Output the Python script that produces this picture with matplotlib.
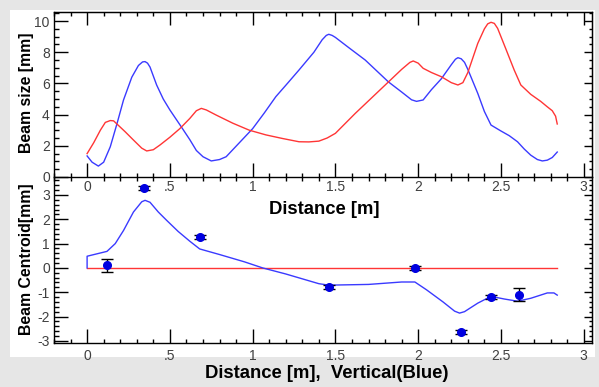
import matplotlib
matplotlib.use('Agg')
import matplotlib.pyplot as plt
from matplotlib.ticker import MultipleLocator, FixedLocator
from matplotlib.patches import Rectangle

plt.rcParams['font.family'] = ['Liberation Sans', 'DejaVu Sans']

# ---------------- data ----------------
top_blue_x = [0.00, 0.03, 0.068, 0.10, 0.14, 0.18, 0.22, 0.27, 0.31, 0.335, 0.35, 0.365, 0.38, 0.42,
              0.46, 0.50, 0.57, 0.62, 0.66, 0.70, 0.75, 0.80, 0.84, 0.92, 1.00, 1.07, 1.14, 1.21,
              1.28, 1.37, 1.42, 1.445, 1.46, 1.48, 1.50, 1.58, 1.68, 1.75, 1.82, 1.90, 1.96, 1.99,
              2.03, 2.08, 2.14, 2.20, 2.225, 2.24, 2.26, 2.28, 2.30, 2.36, 2.40, 2.44, 2.50, 2.55,
              2.60, 2.64, 2.68, 2.72, 2.75, 2.78, 2.81, 2.84]
top_blue_y = [1.35, 0.95, 0.70, 0.95, 1.94, 3.40, 4.94, 6.40, 7.15, 7.38, 7.40, 7.30, 7.05, 5.90,
              5.00, 4.30, 3.20, 2.40, 1.70, 1.30, 1.03, 1.12, 1.30, 2.20, 3.10, 4.10, 5.15, 6.00,
              6.86, 8.00, 8.80, 9.08, 9.15, 9.08, 8.95, 8.30, 7.50, 6.80, 6.10, 5.45, 4.95, 4.85,
              4.94, 5.60, 6.30, 7.20, 7.55, 7.65, 7.58, 7.35, 6.90, 5.36, 4.20, 3.33, 2.95, 2.65,
              2.26, 1.80, 1.40, 1.12, 1.03, 1.08, 1.25, 1.60]

top_red_x = [0.00, 0.04, 0.08, 0.11, 0.14, 0.16, 0.18, 0.23, 0.28, 0.33, 0.36, 0.40, 0.44, 0.50,
             0.56, 0.62, 0.66, 0.69, 0.72, 0.78, 0.88, 0.98, 1.08, 1.18, 1.28, 1.34, 1.40, 1.45,
             1.50, 1.62, 1.78, 1.90, 1.95, 1.97, 2.00, 2.03, 2.08, 2.14, 2.20, 2.24, 2.27, 2.30,
             2.36, 2.40, 2.42, 2.44, 2.46, 2.48, 2.53, 2.58, 2.62, 2.68, 2.74, 2.78, 2.81, 2.83,
             2.84]
top_red_y = [1.50, 2.20, 3.00, 3.50, 3.62, 3.60, 3.40, 2.90, 2.37, 1.85, 1.67, 1.75, 2.05, 2.55,
             3.10, 3.75, 4.25, 4.40, 4.30, 3.97, 3.45, 3.00, 2.70, 2.47, 2.26, 2.25, 2.30, 2.50,
             2.80, 4.08, 5.69, 6.90, 7.35, 7.44, 7.30, 6.97, 6.70, 6.43, 6.05, 5.90, 6.05, 6.70,
             8.57, 9.50, 9.82, 9.92, 9.85, 9.53, 8.20, 6.86, 5.90, 5.30, 4.85, 4.50, 4.25, 3.90,
             3.40]

bot_blue_x = [0.00, 0.00, 0.12, 0.17, 0.22, 0.28, 0.33, 0.35, 0.38, 0.43, 0.48, 0.55, 0.62, 0.68,
              0.80, 0.95, 1.06, 1.20, 1.30, 1.40, 1.46, 1.70, 1.90, 1.98, 2.05, 2.15, 2.22, 2.25,
              2.28, 2.36, 2.44, 2.52, 2.60, 2.68, 2.78, 2.82, 2.84]
bot_blue_y = [0.00, 0.48, 0.68, 1.00, 1.54, 2.30, 2.72, 2.78, 2.70, 2.30, 1.96, 1.50, 1.10, 0.78,
              0.55, 0.25, 0.00, -0.25, -0.45, -0.65, -0.71, -0.68, -0.58, -0.58, -0.90, -1.40,
              -1.78, -1.86, -1.80, -1.45, -1.17, -1.28, -1.37, -1.25, -1.03, -1.03, -1.12]

bot_red_x = [0.00, 2.84]
bot_red_y = [0.00, 0.00]

meas_x = [0.12, 0.345, 0.68, 1.46, 1.98, 2.26, 2.44, 2.61]
meas_y = [0.10, 3.27, 1.26, -0.80, -0.02, -2.63, -1.21, -1.10]
meas_err = [0.26, 0.08, 0.08, 0.08, 0.08, 0.08, 0.08, 0.26]

x_ticks = [0, 0.5, 1, 1.5, 2, 2.5, 3]
x_ticklabels = ['0', '.5', '1', '1.5', '2', '2.5', '3']
top_yticks = [0, 2, 4, 6, 8, 10]
bot_yticks = [-3, -2, -1, 0, 1, 2, 3]
bot_yticklabels = ['-3', '-2', '-1', '0', '1', '2', '3']

# ---------------- figure ----------------
W, H = 599, 387
fig = plt.figure(figsize=(W / 100, H / 100), dpi=100)
fig.patch.set_facecolor('#e6e6e6')
fig.patches.append(Rectangle((10 / W, 1 - 357 / H), 585 / W, 347 / H,
                             transform=fig.transFigure, facecolor='white',
                             edgecolor='none', zorder=-10))

BLUE = '#3a3aff'
RED = '#ff3535'
TICKC = '#404040'
PT = 72 / 100  # px -> pt

ax_bot = fig.add_axes([54 / W, 1 - 343 / H, 538 / W, 166 / H])
ax_top = fig.add_axes([54 / W, 1 - 177 / H, 538 / W, 165 / H])

for ax in (ax_top, ax_bot):
    ax.set_xlim(-0.2, 3.05)
    ax.set_facecolor('white')
    ax.xaxis.set_major_locator(FixedLocator(x_ticks))
    ax.set_xticklabels(x_ticklabels)
    ax.xaxis.set_minor_locator(MultipleLocator(0.1))
    for s in ax.spines.values():
        s.set_linewidth(1.0)
        s.set_color('black')

# ---- top panel ----
ax_top.plot(top_blue_x, top_blue_y, color=BLUE, lw=1.0)
ax_top.plot(top_red_x, top_red_y, color=RED, lw=1.0)
ax_top.set_ylim(0, 10.58)
ax_top.yaxis.set_major_locator(FixedLocator(top_yticks))
ax_top.yaxis.set_minor_locator(MultipleLocator(0.5))
ax_top.tick_params(axis='x', which='major', direction='in', length=14 * PT, width=1,
                   labelsize=10, labelcolor=TICKC, pad=2, top=False)
ax_top.tick_params(axis='x', which='minor', direction='inout', length=8 * PT, width=1, top=False)
ax_top.tick_params(axis='y', which='major', direction='in', length=14 * PT, width=1,
                   labelsize=10, labelcolor=TICKC, pad=3, right=False)
ax_top.tick_params(axis='y', which='minor', direction='in', length=5 * PT, width=1, right=False)

sx = ax_top.secondary_xaxis('top')
sx.xaxis.set_major_locator(FixedLocator(x_ticks))
sx.xaxis.set_minor_locator(MultipleLocator(0.1))
sx.tick_params(which='major', direction='in', length=13 * PT, width=1, labeltop=False)
sx.tick_params(which='minor', direction='in', length=4 * PT, width=1)
sy = ax_top.secondary_yaxis('right')
sy.yaxis.set_major_locator(FixedLocator(top_yticks))
sy.yaxis.set_minor_locator(MultipleLocator(0.5))
sy.tick_params(which='major', direction='in', length=8 * PT, width=1, labelright=False)
sy.tick_params(which='minor', direction='in', length=3 * PT, width=1)

# ---- bottom panel ----
ax_bot.plot(bot_red_x, bot_red_y, color=RED, lw=1.0)
ax_bot.plot(bot_blue_x, bot_blue_y, color=BLUE, lw=1.0)
ax_bot.errorbar(meas_x, meas_y, yerr=meas_err, fmt='o', color='#0000e0', markersize=5.5,
                ecolor='black', elinewidth=1, capsize=4, capthick=1, zorder=5)
ax_bot.set_ylim(-3.09, 3.74)
ax_bot.yaxis.set_major_locator(FixedLocator(bot_yticks))
ax_bot.set_yticklabels(bot_yticklabels)
ax_bot.yaxis.set_minor_locator(MultipleLocator(0.2))
ax_bot.spines['top'].set_visible(False)
ax_bot.tick_params(axis='x', which='major', direction='in', length=14 * PT, width=1,
                   labelsize=10, labelcolor=TICKC, pad=4, top=False)
ax_bot.tick_params(axis='x', which='minor', direction='in', length=4 * PT, width=1, top=False)
ax_bot.tick_params(axis='y', which='major', direction='in', length=14 * PT, width=1,
                   labelsize=10, labelcolor=TICKC, pad=3, right=False)
ax_bot.tick_params(axis='y', which='minor', direction='in', length=5 * PT, width=1, right=False)
sy2 = ax_bot.secondary_yaxis('right')
sy2.yaxis.set_major_locator(FixedLocator(bot_yticks))
sy2.yaxis.set_minor_locator(MultipleLocator(0.2))
sy2.tick_params(which='major', direction='in', length=8 * PT, width=1, labelright=False)
sy2.tick_params(which='minor', direction='in', length=3 * PT, width=1)

# ---- labels ----
fig.text(324 / W, 1 - 209 / H, 'Distance [m]', ha='center', va='center',
         fontsize=13.3, fontweight='bold')
fig.text(327 / W, 1 - 373 / H, 'Distance [m],  Vertical(Blue)', ha='center', va='center',
         fontsize=13.3, fontweight='bold')
fig.text(26.5 / W, 1 - 92.5 / H, 'Beam size [mm]', ha='center', va='center', rotation=90,
         fontsize=11.4, fontweight='bold')
fig.text(26.5 / W, 1 - 259 / H, 'Beam Centroid[mm]', ha='center', va='center', rotation=90,
         fontsize=11.4, fontweight='bold')

fig.savefig('out.png', dpi=100, facecolor=fig.get_facecolor())
